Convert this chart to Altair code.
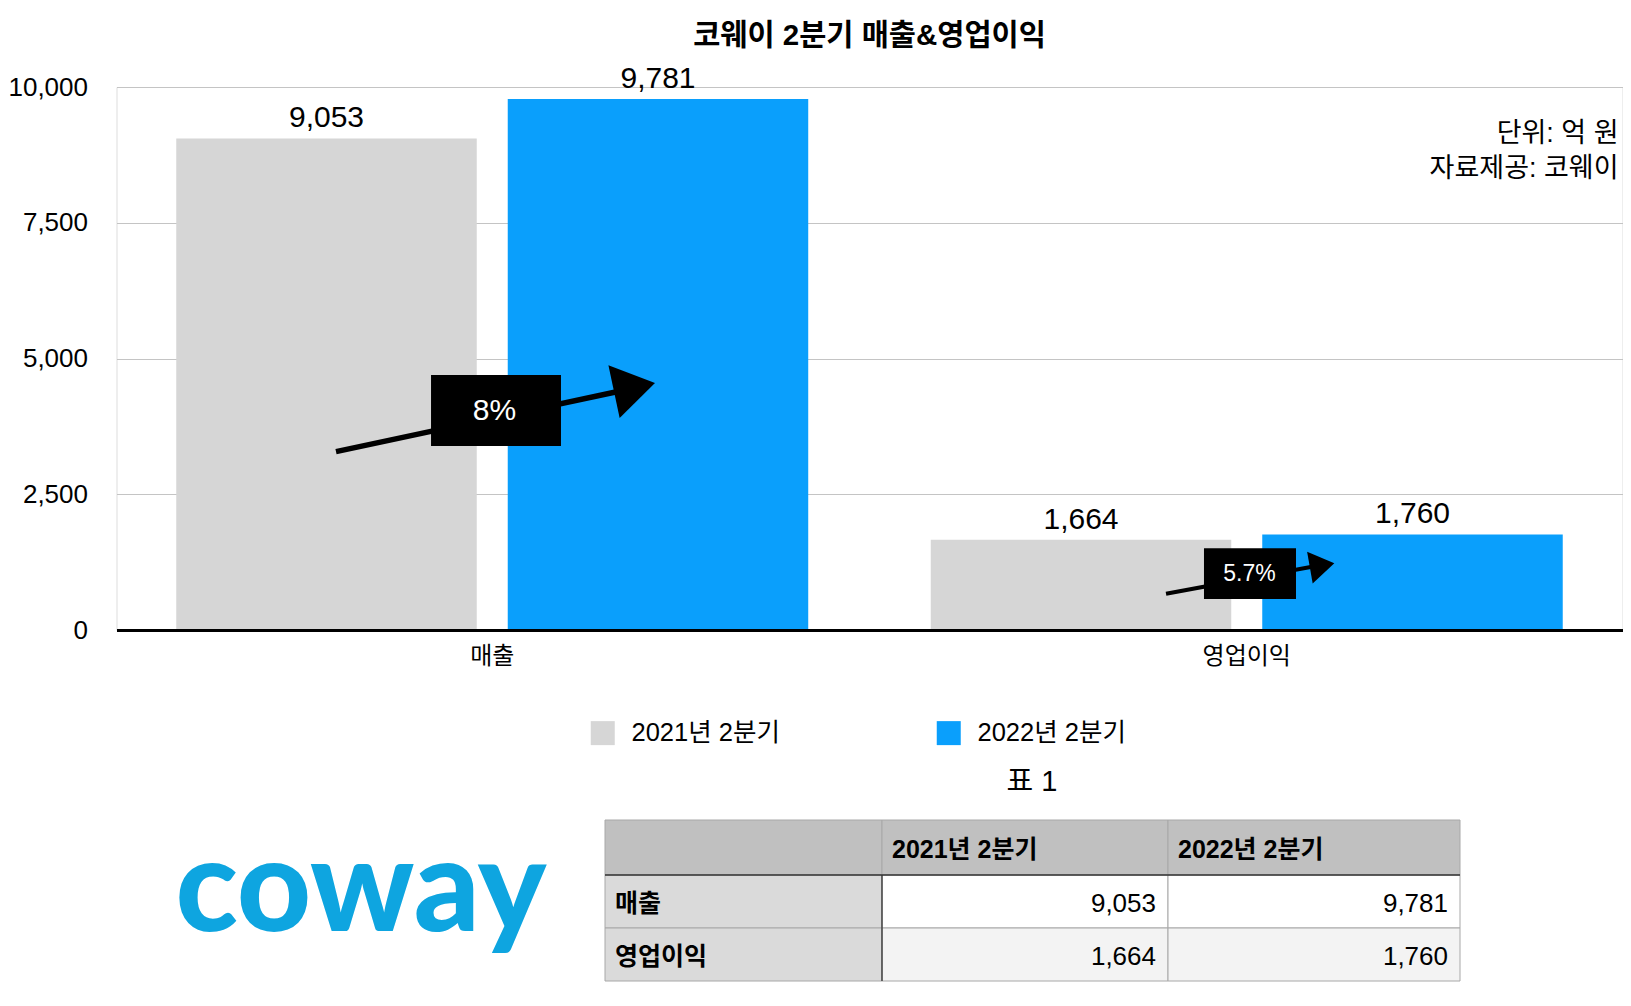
import altair as alt
import pandas as pd

# ---------------- data ----------------
title_text = "코웨이 2분기 매출&영업이익"
categories = ["매출", "영업이익"]
years = ["2021년 2분기", "2022년 2분기"]
values_2021 = [9053, 1664]
values_2022 = [9781, 1760]
y_ticks = [0, 2500, 5000, 7500, 10000]
note_lines = ["단위: 억 원", "자료제공: 코웨이"]
table_caption = "표 1"
logo_text = "coway"

# growth annotations (x in category units 0..2, y in value units)
growth_labels = ["8%", "5.7%"]
arrow_x_start = [0.2915, 1.3938]
arrow_y_start = [3284, 668]
arrow_x_end = [0.6753, 1.5930]
arrow_y_end = [4420, 1179]
arrow_x_tip = [0.7151, 1.6173]
arrow_y_tip = [4549, 1228]
box_x0 = [0.4177, 1.4442]
box_x1 = [0.5903, 1.5664]
box_y0 = [3389, 571]
box_y1 = [4696, 1505]
label_x = [0.5020, 1.5046]
label_y = [4042, 1040]

# ---------------- style ----------------
W, H = 1506, 543
FONT = "Liberation Sans, Noto Sans CJK KR"
GRAY = "#d6d6d6"
BLUE = "#0a9ffc"
ARROW_W = [5.5, 4]
HEAD_SIZE = [2916, 1024]
HEAD_ANGLE = [348, 350]
ANN_FONT = [30, 23]
HEAD_PATH = "M0,0L-1.55,-1L-1.55,1Z"
TABLE_COL_W = [277, 286, 292]     # pixel widths of the table columns
TABLE_ROW_H = [55, 53, 53]        # pixel heights of the table rows
TABLE_LEFT = 488.5                # table left edge relative to plot origin
TABLE_TOP = 733                   # table top edge relative to plot origin

# ---------------- bars ----------------
bar_df = pd.DataFrame({
    "cat": categories * 2,
    "year": [years[0]] * len(categories) + [years[1]] * len(categories),
    "value": values_2021 + values_2022,
})

x_bar = alt.X(
    "cat:N", sort=categories, title=None,
    scale=alt.Scale(domain=categories, paddingInner=0.1624, paddingOuter=0.0792),
    axis=alt.Axis(labelAngle=0, labelFont=FONT, labelFontSize=24, labelColor="#000",
                  labelPadding=14, ticks=False, domainColor="#000", domainWidth=3,
                  grid=False, zindex=1),
)
xo_bar = alt.XOffset("year:N", sort=years,
                     scale=alt.Scale(domain=years, paddingInner=0.0935, paddingOuter=0))
y_bar = alt.Y(
    "value:Q", title=None,
    scale=alt.Scale(domain=[0, 10000], nice=False),
    axis=alt.Axis(values=y_ticks, format=",.0f", labelFont=FONT, labelFontSize=26,
                  labelColor="#000", labelPadding=29, ticks=False, domain=False,
                  grid=True, gridColor="#c4c4c4", gridWidth=1.2),
)
color_bar = alt.Color(
    "year:N", sort=years,
    scale=alt.Scale(domain=years, range=[GRAY, BLUE]),
    legend=alt.Legend(title=None, orient="none", legendX=473.5, legendY=633,
                      direction="horizontal", symbolType="square", symbolSize=576,
                      symbolStrokeWidth=0, labelFont=FONT, labelFontSize=25.5,
                      labelColor="#000", labelOffset=16, columnPadding=156,
                      padding=0, labelLimit=400),
)

bars = alt.Chart(bar_df).mark_bar().encode(x=x_bar, xOffset=xo_bar, y=y_bar, color=color_bar)
bar_labels = alt.Chart(bar_df).mark_text(
    font=FONT, fontSize=30, baseline="alphabetic", dy=-11, color="#000"
).encode(x=x_bar, xOffset=xo_bar, y=y_bar, text=alt.Text("value:Q", format=","))
bar_layer = alt.layer(bars, bar_labels)

# ---------------- annotations ----------------
ann_df = pd.DataFrame({
    "label": growth_labels,
    "xs": arrow_x_start, "ys": arrow_y_start,
    "xe": arrow_x_end, "ye": arrow_y_end,
    "xt": arrow_x_tip, "yt": arrow_y_tip,
    "bx0": box_x0, "bx1": box_x1, "by0": box_y0, "by1": box_y1,
    "lx": label_x, "ly": label_y,
})


def ax(field):
    return alt.X(f"{field}:Q", scale=alt.Scale(domain=[0, 2], nice=False, zero=False), axis=None)


def ay(field):
    return alt.Y(f"{field}:Q", scale=alt.Scale(domain=[0, 10000], nice=False, zero=False), axis=None)


ann_layers = []
for i in range(len(growth_labels)):
    d = ann_df.iloc[[i]]
    ann_layers.append(alt.Chart(d).mark_rule(strokeWidth=ARROW_W[i], color="#000").encode(
        x=ax("xs"), x2="xe", y=ay("ys"), y2="ye"))
    ann_layers.append(alt.Chart(d).mark_point(
        shape=HEAD_PATH, size=HEAD_SIZE[i], angle=HEAD_ANGLE[i], filled=True,
        color="#000", opacity=1, strokeWidth=0).encode(x=ax("xt"), y=ay("yt")))
    ann_layers.append(alt.Chart(d).mark_rect(color="#000").encode(
        x=ax("bx0"), x2="bx1", y=ay("by0"), y2="by1"))
    ann_layers.append(alt.Chart(d).mark_text(
        color="#fff", font=FONT, fontSize=ANN_FONT[i], align="center", baseline="middle"
    ).encode(x=ax("lx"), y=ay("ly"), text="label:N"))

# ---------------- table ----------------
col_edges = [0]
for w in TABLE_COL_W:
    col_edges.append(col_edges[-1] + w)
row_edges = [0]
for h in TABLE_ROW_H:
    row_edges.append(row_edges[-1] + h)

cells = []
for r in range(3):
    for c in range(3):
        if r == 0:
            fill = "#c0c0c0"
        elif c == 0:
            fill = "#dadada"
        elif r == 1:
            fill = "#ffffff"
        else:
            fill = "#f3f3f3"
        if r == 0:
            text, kind = ("" if c == 0 else years[c - 1]), "bold"
        elif c == 0:
            text, kind = categories[r - 1], "bold"
        else:
            v = (values_2021 if c == 1 else values_2022)[r - 1]
            text, kind = f"{v:,}", "num"
        cells.append({"x0": col_edges[c], "x1": col_edges[c + 1],
                      "y0": row_edges[r], "y1": row_edges[r + 1],
                      "ym": (row_edges[r] + row_edges[r + 1]) / 2,
                      "tl": col_edges[c] + 10, "tr": col_edges[c + 1] - 12,
                      "fill": fill, "text": text, "kind": kind})
table_df = pd.DataFrame(cells)

tab_xscale = alt.Scale(domain=[0, col_edges[-1]], range=[TABLE_LEFT, TABLE_LEFT + col_edges[-1]],
                       nice=False, zero=False)
tab_yscale = alt.Scale(domain=[0, row_edges[-1]], range=[TABLE_TOP, TABLE_TOP + row_edges[-1]],
                       nice=False, zero=False)

tab_cells = alt.Chart(table_df).mark_rect(stroke="#a8a8a8", strokeWidth=1).encode(
    x=alt.X("x0:Q", scale=tab_xscale, axis=None), x2="x1:Q",
    y=alt.Y("y0:Q", scale=tab_yscale, axis=None), y2="y1:Q",
    fill=alt.Fill("fill:N", scale=None),
)
sep_df = pd.DataFrame({
    "x0": [0, col_edges[1]], "x1": [col_edges[-1], col_edges[1]],
    "y0": [row_edges[1], row_edges[1]], "y1": [row_edges[1], row_edges[-1]],
})
tab_seps = alt.Chart(sep_df).mark_rule(color="#333333", strokeWidth=1.3).encode(
    x=alt.X("x0:Q", scale=tab_xscale, axis=None), x2="x1:Q",
    y=alt.Y("y0:Q", scale=tab_yscale, axis=None), y2="y1:Q",
)
tab_bold = alt.Chart(table_df[table_df.kind == "bold"]).mark_text(
    align="left", baseline="middle", dy=2, font=FONT, fontSize=25, fontWeight="bold", color="#000"
).encode(
    x=alt.X("tl:Q", scale=tab_xscale, axis=None),
    y=alt.Y("ym:Q", scale=tab_yscale, axis=None),
    text="text:N",
)
tab_num = alt.Chart(table_df[table_df.kind == "num"]).mark_text(
    align="right", baseline="middle", dy=2, font=FONT, fontSize=26, color="#000"
).encode(
    x=alt.X("tr:Q", scale=tab_xscale, axis=None),
    y=alt.Y("ym:Q", scale=tab_yscale, axis=None),
    text="text:N",
)
table_layer = alt.layer(tab_cells, tab_seps, tab_bold, tab_num)

# ---------------- free texts ----------------
one = pd.DataFrame({"t": ["\n".join(note_lines)]})
notes = alt.Chart(one).mark_text(
    align="right", baseline="alphabetic", font=FONT, fontSize=27, color="#000",
    lineBreak="\n", lineHeight=34.5
).encode(x=alt.value(1502), y=alt.value(55), text="t:N")

caption = alt.Chart(pd.DataFrame({"t": [table_caption]})).mark_text(
    align="center", baseline="middle", font=FONT, fontSize=29, color="#000"
).encode(x=alt.value(915.5), y=alt.value(695), text="t:N")

logo = alt.Chart(pd.DataFrame({"t": [logo_text]})).mark_text(
    align="left", baseline="alphabetic", font="Lato", fontWeight=900, fontSize=129,
    color="#0ea5e0"
).encode(x=alt.value(59), y=alt.value(844), text="t:N")

chart = alt.layer(
    bar_layer, *ann_layers, table_layer, notes, caption, logo
).resolve_scale(
    x="independent", y="independent"
).properties(
    width=W, height=H,
    title=alt.TitleParams(title_text, font=FONT, fontSize=29.5, fontWeight="bold",
                          color="#000", anchor="middle", frame="group",
                          baseline="bottom", offset=-17),
    autosize=alt.AutoSizeParams(type="none"),
    padding={"left": 108.5, "top": 79, "right": 0, "bottom": 360},
).configure_view(strokeWidth=0, stroke="transparent").configure(background="#ffffff")

chart.save("out.html", embed_options={"renderer": "svg", "actions": False})
